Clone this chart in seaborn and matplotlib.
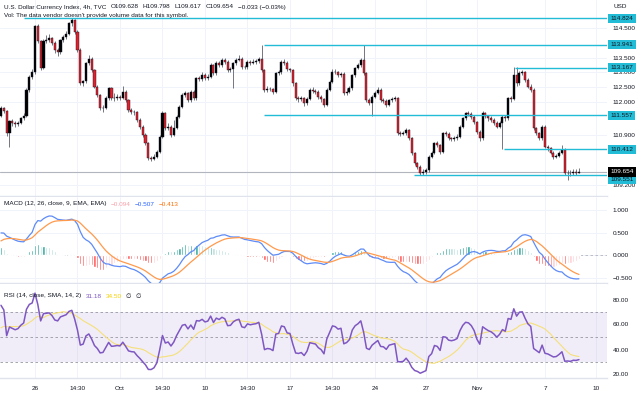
import numpy as np
import pandas as pd
import seaborn as sns
import matplotlib.pyplot as plt
import matplotlib.transforms as mtransforms
from matplotlib.text import Annotation

# 4h candles of the U.S. Dollar Index (open = previous close)
first_open = 111.55
closes = [
    111.80, 111.70, 110.95, 111.35, 111.30, 111.25, 111.30, 111.45, 111.55, 112.40,
    112.85, 113.00, 114.55, 114.05, 113.15, 114.05, 114.10, 114.15, 114.00, 113.75,
    113.70, 114.09, 114.20, 114.31, 114.65, 114.77, 114.37, 113.76, 112.63, 112.70,
    113.31, 113.47, 113.08, 112.52, 112.24, 111.79, 111.82, 112.13, 112.46, 112.13,
    112.15, 112.18, 112.15, 112.35, 112.07, 111.74, 111.68, 111.66, 111.40, 111.18,
    110.90, 110.61, 110.11, 110.10, 110.16, 110.33, 110.84, 111.62, 111.12, 111.18,
    110.90, 111.12, 111.51, 111.85, 112.24, 112.30, 112.07, 112.35, 112.13, 112.80,
    112.78, 112.92, 112.80, 112.86, 113.25, 112.97, 113.31, 113.25, 113.42, 113.36,
    113.08, 113.10, 113.31, 113.42, 113.47, 113.20, 113.17, 113.36, 113.33, 113.36,
    113.38, 113.44, 113.08, 112.41, 112.45, 112.43, 112.35, 112.97, 113.00, 113.36,
    113.33, 113.10, 113.08, 112.63, 112.13, 112.10, 112.13, 111.96, 112.10, 112.41,
    112.38, 112.35, 112.19, 112.10, 111.90, 112.41, 112.69, 113.03, 113.00, 112.91,
    112.95, 112.30, 112.35, 112.47, 112.91, 113.14, 113.25, 113.42, 112.97, 112.07,
    111.98, 112.19, 112.30, 112.41, 112.07, 112.05, 111.90, 112.07, 112.10, 112.13,
    110.95, 110.93, 110.95, 111.06, 110.78, 110.28, 109.94, 109.83, 109.62, 109.66,
    109.70, 110.17, 110.28, 110.61, 110.56, 110.33, 110.95, 110.93, 110.78, 110.75,
    110.78, 110.84, 111.18, 111.45, 111.62, 111.60, 111.51, 111.34, 111.00, 110.78,
    111.62, 111.53, 111.45, 111.40, 111.31, 111.18, 111.30, 111.51, 111.45, 112.13,
    112.10, 112.91, 112.63, 112.97, 113.00, 112.75, 112.52, 112.41, 111.12, 110.95,
    110.78, 111.18, 110.50, 110.44, 110.30, 110.17, 110.19, 110.28, 110.39, 109.62,
    109.63, 109.60, 109.64, 109.628, 109.654,
]
highs = [
    111.88, 111.85, 111.74, 111.40, 111.42, 111.36, 111.36, 111.50, 111.62, 112.46,
    112.92, 113.12, 114.60, 114.62, 114.10, 114.12, 114.25, 114.28, 114.18, 114.05,
    113.82, 114.14, 114.26, 114.38, 114.70, 114.84, 114.80, 114.42, 113.82, 112.76,
    113.36, 113.58, 113.52, 113.12, 112.58, 112.28, 111.90, 112.20, 112.52, 112.50,
    112.30, 112.26, 112.24, 112.55, 112.40, 112.12, 111.80, 111.75, 111.70, 111.45,
    111.22, 110.95, 110.66, 110.20, 110.24, 110.40, 110.90, 111.70, 111.66, 111.30,
    111.22, 111.40, 111.56, 111.90, 112.30, 112.38, 112.35, 112.42, 112.40, 112.86,
    112.88, 113.00, 112.98, 112.94, 113.32, 113.30, 113.38, 113.40, 113.48, 113.48,
    113.42, 113.18, 113.36, 113.50, 113.60, 113.52, 113.26, 113.42, 113.42, 113.44,
    113.44, 113.52, 113.94, 113.12, 112.55, 112.52, 112.48, 113.02, 113.08, 113.42,
    113.46, 113.38, 113.16, 113.12, 112.68, 112.22, 112.20, 112.18, 112.16, 112.46,
    112.50, 112.44, 112.40, 112.24, 112.14, 112.46, 112.74, 113.10, 113.10, 113.06,
    113.02, 113.00, 112.48, 112.54, 112.96, 113.20, 113.32, 113.50, 113.94, 113.02,
    112.14, 112.24, 112.38, 112.52, 112.46, 112.14, 112.10, 112.12, 112.18, 112.20,
    112.16, 111.02, 111.02, 111.12, 111.10, 110.82, 110.32, 109.98, 109.88, 109.74,
    109.78, 110.22, 110.36, 110.66, 110.70, 110.60, 111.00, 111.04, 110.98, 110.84,
    110.86, 110.92, 111.24, 111.50, 111.68, 111.70, 111.66, 111.56, 111.38, 111.05,
    111.70, 111.68, 111.58, 111.52, 111.46, 111.36, 111.36, 111.56, 111.58, 112.18,
    112.22, 113.17, 113.17, 113.04, 113.08, 113.04, 112.80, 112.60, 112.46, 111.18,
    111.00, 111.24, 111.22, 110.56, 110.48, 110.34, 110.26, 110.34, 110.56, 110.44,
    109.72, 109.70, 109.76, 109.74, 109.798,
]
lows = [
    111.50, 111.62, 110.85, 110.50, 111.20, 111.18, 111.20, 111.26, 111.40, 111.50,
    112.35, 112.78, 112.95, 113.98, 113.08, 113.10, 113.98, 114.02, 113.92, 113.66,
    113.55, 113.62, 114.02, 114.12, 114.26, 114.58, 114.30, 113.70, 112.58, 112.55,
    112.66, 113.25, 113.02, 112.46, 112.16, 111.72, 111.66, 111.78, 112.08, 112.06,
    112.05, 112.08, 112.06, 112.10, 112.00, 111.68, 111.60, 111.58, 111.34, 111.10,
    110.84, 110.55, 110.05, 110.02, 110.06, 110.12, 110.28, 110.80, 111.05, 111.06,
    110.84, 110.86, 111.08, 111.46, 111.80, 112.18, 112.00, 112.02, 112.06, 112.08,
    112.70, 112.72, 112.74, 112.74, 112.82, 112.90, 112.92, 113.18, 113.20, 113.30,
    113.00, 113.02, 112.46, 113.26, 113.38, 113.12, 113.10, 113.12, 113.26, 113.28,
    113.30, 113.32, 113.02, 112.34, 112.34, 112.36, 112.28, 112.30, 112.92, 112.96,
    113.26, 113.04, 113.00, 112.56, 112.06, 112.02, 112.04, 111.88, 111.90, 112.06,
    112.30, 112.28, 112.12, 112.02, 111.84, 111.86, 112.36, 112.64, 112.94, 112.84,
    112.86, 112.24, 112.24, 112.30, 112.42, 112.86, 113.10, 113.20, 112.90, 112.00,
    111.90, 111.52, 112.14, 112.26, 112.00, 111.98, 111.84, 111.86, 112.02, 112.04,
    110.90, 110.86, 110.88, 110.90, 110.72, 110.22, 109.88, 109.76, 109.55, 109.56,
    109.58, 109.66, 110.12, 110.24, 110.50, 110.26, 110.28, 110.86, 110.72, 110.68,
    110.70, 110.72, 110.80, 111.14, 111.40, 111.54, 111.44, 111.28, 110.94, 110.70,
    110.74, 111.46, 111.38, 111.32, 111.24, 111.12, 111.12, 110.41, 111.38, 111.40,
    112.02, 112.06, 112.56, 112.58, 112.92, 112.68, 112.46, 112.34, 111.06, 110.88,
    110.72, 110.74, 110.44, 110.36, 110.24, 110.10, 110.12, 110.14, 110.24, 109.55,
    109.38, 109.52, 109.54, 109.56, 109.617,
]

# indicator state just before the first candle, estimated from the left edge of the panes
ema12_seed, ema26_seed, signal_seed = 111.20, 110.72, 0.27
gain_seed, loss_seed = 0.10, 0.039
rsi_ma_seed = 56.0

# horizontal levels drawn on the chart and the candle where each one starts
level_prices = [114.824, 113.941, 113.167, 111.557, 110.412, 109.551]
level_starts = [8, 92.8, 181.4, 92.8, 177.5, 145.8]
last_price = 109.654

# time axis
tick_pos = [12, 27, 42, 57, 72, 87, 102, 117, 132, 150, 168, 192, 210]
tick_labels = ["26", "14:30", "Oct", "14:30", "10", "14:30", "17", "14:30",
               "24", "27", "Nov", "7", "10"]

price_ticks = [114.5, 113.5, 113.0, 112.5, 112.0, 110.9, 109.2]
macd_ticks = [1.0, 0.5, 0.0, -0.5]
rsi_ticks = [80, 60, 40, 20]

CYAN = "#22bcd6"
TXT = "#131722"
GRID = "#f0f3fa"
FS = 4.6

sns.set_theme(style="white")
plt.rcParams["font.family"] = ["Liberation Sans", "DejaVu Sans"]

# --- data frame + indicators ---
df = pd.DataFrame({"close": closes, "high": highs, "low": lows})
df["open"] = [first_open] + closes[:-1]
df["i"] = np.arange(len(df))
df["high"] = df[["high", "open", "close"]].max(axis=1)
df["low"] = df[["low", "open", "close"]].min(axis=1)


def ema(values, span, seed):
    a = 2 / (span + 1)
    out, e = [], seed
    for v in values:
        e = e + a * (v - e)
        out.append(e)
    return np.array(out)


df["macd"] = ema(df["close"], 12, ema12_seed) - ema(df["close"], 26, ema26_seed)
df["signal"] = ema(df["macd"], 9, signal_seed)
df["histo"] = df["macd"] - df["signal"]

rsi = []
g, l = gain_seed, loss_seed
for d in df["close"] - df["open"]:
    g = (13 * g + max(d, 0)) / 14
    l = (13 * l + max(-d, 0)) / 14
    rsi.append(100 - 100 / (1 + g / l))
df["rsi"] = rsi
padded = pd.Series([rsi_ma_seed] * 13 + rsi)
df["rsi_ma"] = padded.rolling(14).mean().iloc[13:].to_numpy()

hist_colors = []
prev = 0.0
for h in df["histo"]:
    if h >= 0:
        hist_colors.append("#26a69a" if h >= prev else "#b2dfdb")
    else:
        hist_colors.append("#ffcdd2" if h > prev else "#ff5252")
    prev = h

W, H = 640, 394
def fx(px):
    return px / W
def fy(py):
    return 1 - py / H

fig = plt.figure(figsize=(6.4, 3.94), dpi=100)
ax1 = fig.add_axes([0, fy(196), fx(607), 196 / H])
ax2 = fig.add_axes([0, fy(283), fx(607), 86 / H], sharex=ax1)
ax3 = fig.add_axes([0, fy(378), fx(607), 94 / H], sharex=ax1)

for ax in (ax1, ax2, ax3):
    ax.set_facecolor("white")
    for s in ax.spines.values():
        s.set_visible(False)
    ax.spines["bottom"].set_visible(True)
    ax.spines["bottom"].set_color("#e0e3eb")
    ax.spines["bottom"].set_linewidth(1.0)
    for t in tick_pos:
        ax.axvline(t, color=GRID, lw=0.7, zorder=0)
    ax.yaxis.tick_right()
    ax.tick_params(axis="y", length=0, labelsize=FS, colors=TXT, pad=4)
    ax.tick_params(axis="x", length=0)
    ax.grid(False)

# --- main price pane ---
for p in price_ticks:
    ax1.axhline(p, color=GRID, lw=0.7, zorder=0)
ax1.axhline(last_price, color="#b2b5be", lw=0.8, zorder=1)

up = df["close"] >= df["open"]
ax1.vlines(df["i"], df["low"], df["high"], color="#5d606b", lw=0.6, zorder=2)
ax1.bar(df["i"], (df["close"] - df["open"]).abs(), bottom=df[["open", "close"]].min(axis=1),
        width=0.72, color=np.where(up, "#000000", "#e3202b"),
        edgecolor="#131722", linewidth=0.3, zorder=3)

for p, s in zip(level_prices, level_starts):
    ax1.hlines(p, s, 214, color=CYAN, lw=1.0, zorder=4)

ax1.set_ylim(108.84, 115.44)
ax1.set_yticks(price_ticks)
ax1.set_yticklabels([f"{p:.3f}" for p in price_ticks])

trans = mtransforms.blended_transform_factory(ax1.transAxes, ax1.transData)
box = dict(boxstyle="square,pad=0.35", fc=CYAN, ec="none")
for p in level_prices[:-1]:
    ax1.text(1.006, p, f"{p:.3f}", transform=trans, fontsize=FS, color=TXT,
             va="center", ha="left", bbox=box, zorder=10, clip_on=False)
ax1.annotate(f"{level_prices[-1]:.3f}", xy=(1.006, last_price), xycoords=trans,
             xytext=(0, -5.4), textcoords="offset points", fontsize=FS, color=TXT,
             va="center", ha="left", bbox=box, zorder=10, annotation_clip=False)
ax1.text(1.006, last_price, f"{last_price:.3f}", transform=trans, fontsize=FS,
         color="white", va="center", ha="left", zorder=11, clip_on=False,
         bbox=dict(boxstyle="square,pad=0.35", fc="#000000", ec="none"))

# --- MACD pane ---
ax2.axhline(0, color="#b2b5be", lw=0.6, ls=(0, (3, 3)), zorder=1)
ax2.bar(df["i"], df["histo"], width=0.75, color=hist_colors, zorder=2)
sns.lineplot(x=df["i"], y=df["macd"], ax=ax2, color="#5e8bf7", lw=0.9, zorder=3)
sns.lineplot(x=df["i"], y=df["signal"], ax=ax2, color="#ff9a4d", lw=0.9, zorder=3)
ax2.set_ylim(-0.62, 1.29)
ax2.set_yticks(macd_ticks)
ax2.set_yticklabels([f"{v:.3f}".replace("-", "\u2212") for v in macd_ticks])
for v in macd_ticks:
    ax2.axhline(v, color=GRID, lw=0.7, zorder=0)

# --- RSI pane ---
ax3.axhspan(30, 70, color="#7e57c2", alpha=0.1, lw=0, zorder=0)
for v in (70, 50, 30):
    ax3.axhline(v, color="#9598a1", lw=0.6, ls=(0, (3, 3)), zorder=1)
sns.lineplot(x=df["i"], y=df["rsi_ma"], ax=ax3, color="#f5e07a", lw=0.8, zorder=2)
sns.lineplot(x=df["i"], y=df["rsi"], ax=ax3, color="#7e57c2", lw=1.1, zorder=3)
ax3.set_ylim(17.2, 92.4)
ax3.set_yticks(rsi_ticks)
ax3.set_yticklabels([f"{v:.2f}" for v in rsi_ticks])

for ax in (ax1, ax2, ax3):
    ax.set_xlabel("")
    ax.set_ylabel("")
ax1.set_xlim(-0.35, 213.9)
ax3.set_xticks(tick_pos)
ax3.set_xticklabels(tick_labels)
ax3.tick_params(axis="x", labelsize=FS, colors=TXT, pad=6)
plt.setp(ax1.get_xticklabels(), visible=False)
plt.setp(ax2.get_xticklabels(), visible=False)


# --- legends / captions: pieces written one after another ---
def legend_row(y, pieces):
    t = fig.text(fx(4), fy(y), pieces[0][0], fontsize=FS, color=pieces[0][1],
                 va="center", zorder=20)
    for s, c in pieces[1:]:
        a = Annotation(s, xy=(1, 0.5), xycoords=t, xytext=(3, 0), textcoords="offset points",
                       fontsize=FS, color=c, va="center", ha="left", annotation_clip=False)
        a.set_zorder(20)
        fig.add_artist(a)
        t = a


legend_row(7, [("U.S. Dollar Currency Index, 4h, TVC", TXT), ("O109.628", TXT),
               ("H109.798", TXT), ("L109.617", TXT), ("C109.654", TXT),
               ("\u22120.033 (\u22120.03%)", TXT)])
legend_row(16, [("Vol: The data vendor doesn't provide volume data for this symbol.", TXT)])
legend_row(204, [("MACD (12, 26, close, 9, EMA, EMA)", TXT), ("\u22120.094", "#f7a1a8"),
                 ("\u22120.507", "#2962ff"), ("\u22120.413", "#ff6d00")])
legend_row(296, [("RSI (14, close, SMA, 14, 2)", TXT), ("31.18", "#7e57c2"),
                 ("34.50", "#f5d000"), ("\u2205", TXT), ("\u2205", TXT)])
fig.text(fx(614), fy(7), "USD", fontsize=FS, color=TXT, va="center")

fig.savefig("out.png", dpi=100)
